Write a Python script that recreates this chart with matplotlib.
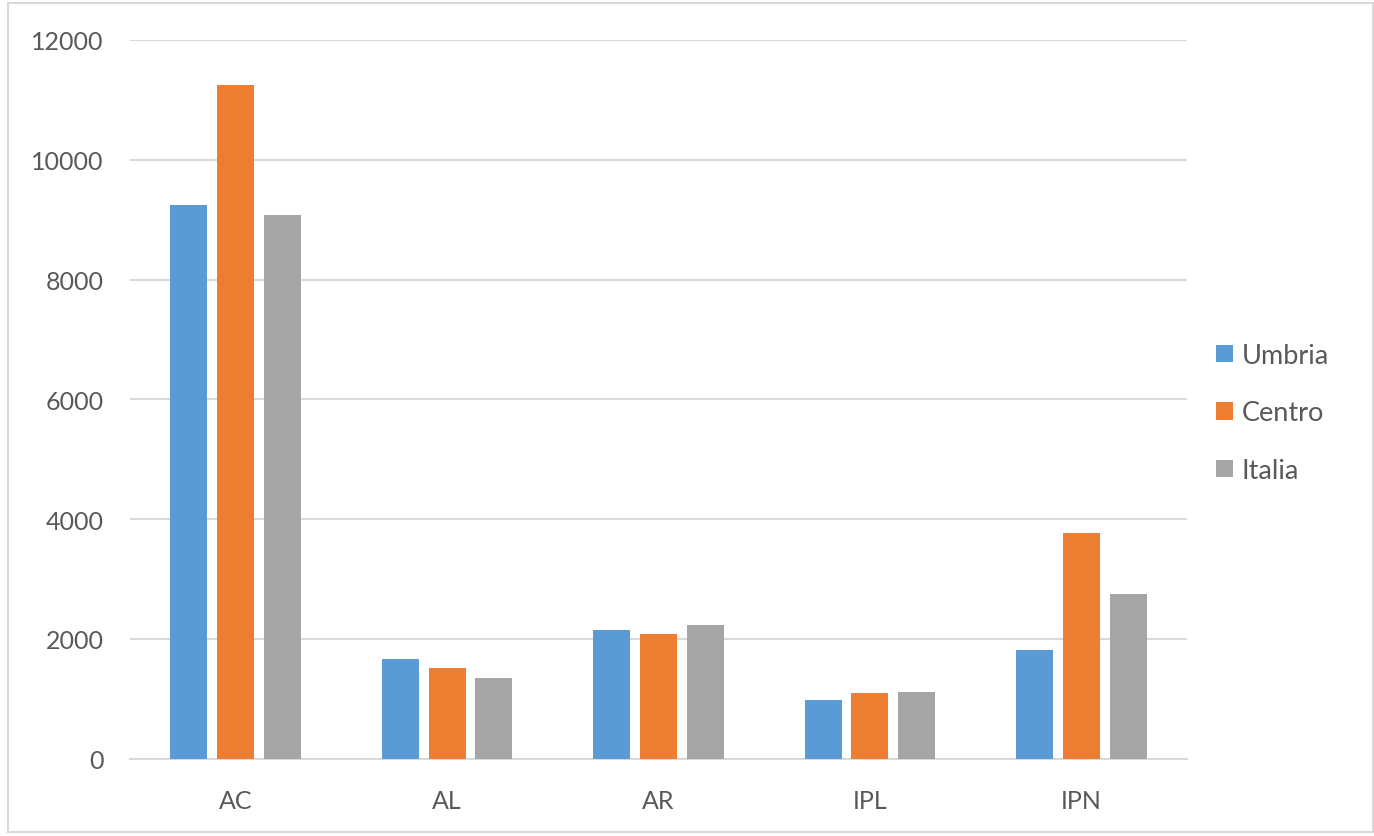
import matplotlib
matplotlib.use("Agg")
import matplotlib.pyplot as plt
import numpy as np
from matplotlib.patches import Rectangle

categories = ["AC", "AL", "AR", "IPL", "IPN"]
series_names = ["Umbria", "Centro", "Italia"]
umbria = [9245, 1655, 2140, 970, 1812]
centro = [11250, 1505, 2074, 1094, 3766]
italia = [9077, 1344, 2230, 1105, 2752]
colors = ["#5B9BD5", "#ED7D31", "#A5A5A5"]
yticks = [0, 2000, 4000, 6000, 8000, 10000, 12000]

plt.rcParams['font.family'] = ['Lato', 'DejaVu Sans']
W, H = 1374, 837
fig = plt.figure(figsize=(W/100, H/100), dpi=100)
ax = fig.add_axes([130/W, 1 - 759.5/H, (1187-130)/W, (759.5-41)/H])

x = np.arange(len(categories))
step = 0.2215
width = 0.175
for i, (vals, name, c) in enumerate(zip([umbria, centro, italia], series_names, colors)):
    ax.bar(x + (i - 1) * step, vals, width=width, color=c, label=name, zorder=3)

ax.set_xlim(-0.5, len(categories) - 0.5)
ax.set_ylim(0, 12000)
ax.set_yticks(yticks)
ax.set_yticklabels([str(v) for v in yticks])
ax.set_xticks(x)
ax.set_xticklabels(categories)
ax.grid(axis='y', color='#D9D9D9', linewidth=1.5, zorder=0)
for s in ['top', 'right', 'left']:
    ax.spines[s].set_visible(False)
ax.spines['bottom'].set_color('#D9D9D9')
ax.spines['bottom'].set_linewidth(1.5)
ax.tick_params(axis='both', length=0, labelsize=18, colors='#595959')
ax.tick_params(axis='y', pad=19)
ax.tick_params(axis='x', pad=22)

leg = ax.legend(loc='center left', bbox_to_anchor=(1192/W, 1 - 414/H), bbox_transform=fig.transFigure,
                frameon=False, fontsize=19.5, handlelength=0.62, handleheight=0.62,
                handletextpad=0.3, labelspacing=1.2)
for t in leg.get_texts():
    t.set_color('#595959')

fig.patches.append(Rectangle((8/W, 4/H), (W-9)/W, (H-8)/H, transform=fig.transFigure,
                             fill=False, edgecolor='#D9D9D9', linewidth=1.5))
fig.savefig("out.png", dpi=100)
